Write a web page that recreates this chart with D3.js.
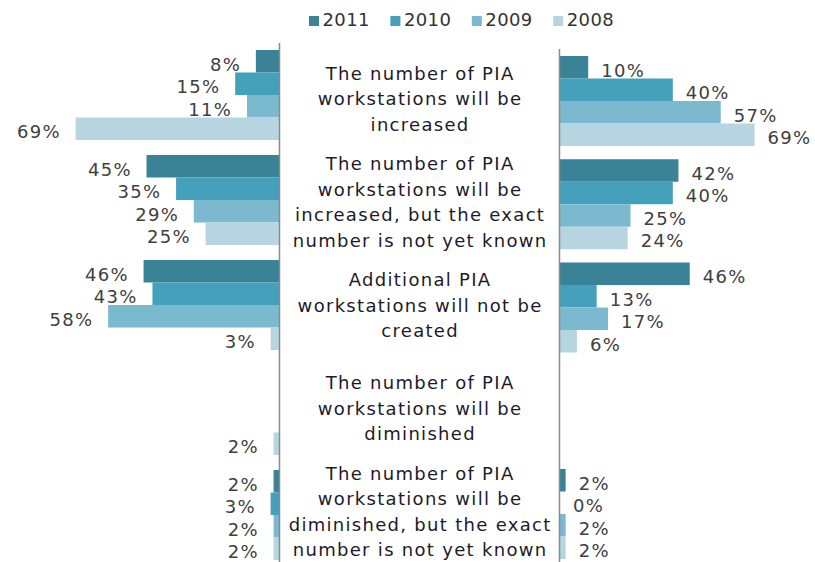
<!DOCTYPE html>
<html>
<head>
<meta charset="utf-8">
<script src="https://cdn.jsdelivr.net/npm/d3@7"></script>
<style>
  body { margin: 0; background: #fff; }
  text { font-family: "DejaVu Sans", Verdana, sans-serif; }
</style>
</head>
<body>
<script>
var categories = [
  "The number of PIA\nworkstations will be\nincreased",
  "The number of PIA\nworkstations will be\nincreased, but the exact\nnumber is not yet known",
  "Additional PIA\nworkstations will not be\ncreated",
  "The number of PIA\nworkstations will be\ndiminished",
  "The number of PIA\nworkstations will be\ndiminished, but the exact\nnumber is not yet known"
];
var years = ["2011", "2010", "2009", "2008"];
var colors = ["#3a8296", "#45a0bb", "#7bb9cf", "#b6d5e0"];

// left chart, one array per year (null = no answer shown)
var left2011 = [8, 45, 46, null, 2];
var left2010 = [15, 35, 43, null, 3];
var left2009 = [11, 29, 58, null, 2];
var left2008 = [69, 25, 3, 2, 2];

// right chart
var right2011 = [10, 42, 46, null, 2];
var right2010 = [40, 40, 13, null, 0];
var right2009 = [57, 25, 17, null, 2];
var right2008 = [69, 24, 6, null, 2];

var leftSeries = [left2011, left2010, left2009, left2008];
var rightSeries = [right2011, right2010, right2009, right2008];

var W = 815, H = 562;
var svg = d3.select("body").append("svg").attr("width", W).attr("height", H);

var axisL = 279.5, axisR = 559.5;

// horizontal scales
var xL = d3.scaleLinear().domain([0, 100]).range([axisL, axisL - 295.5]);
var xR = d3.scaleLinear().domain([0, 100]).range([axisR + 0.5, axisR + 0.5 + 282]);

// vertical scales (the two halves are not quite aligned)
var yL = d3.scaleBand().domain(d3.range(categories.length)).range([50, 560])
  .paddingInner(15 / 105).paddingOuter(0);
var yR = d3.scaleBand().domain(d3.range(categories.length)).range([56, 559])
  .paddingInner(13.25 / 103.25).paddingOuter(0);
var subL = d3.scaleBand().domain(years).range([0, yL.bandwidth()]);
var subR = d3.scaleBand().domain(years).range([0, yR.bandwidth()]);

var labelColor = "#404040";
var spacing = "1.3px";

function drawSide(series, x, y, sub, side) {
  var g = svg.append("g");
  series.forEach(function (vals, si) {
    var yr = years[si];
    var rows = vals.map(function (v, ci) { return { v: v, c: ci }; })
      .filter(function (d) { return d.v !== null; });

    g.selectAll(".bar" + yr).data(rows).enter().append("rect")
      .attr("x", function (d) { return side < 0 ? x(d.v) : x(0); })
      .attr("width", function (d) { return Math.abs(x(d.v) - x(0)); })
      .attr("y", function (d) { return y(d.c) + sub(yr); })
      .attr("height", sub.bandwidth())
      .style("fill", colors[si]);

    g.selectAll(".lab" + yr).data(rows).enter().append("text")
      .attr("x", function (d) { return side < 0 ? x(d.v) - 14.7 : x(d.v) + 13; })
      .attr("y", function (d) { return y(d.c) + sub(yr) + sub.bandwidth() / 2 + 3; })
      .attr("dy", "0.36em")
      .attr("text-anchor", side < 0 ? "end" : "start")
      .style("font-size", "18px")
      .style("letter-spacing", spacing)
      .style("fill", labelColor)
      .text(function (d) { return d.v + "%"; });
  });
}

drawSide(leftSeries, xL, yL, subL, -1);
drawSide(rightSeries, xR, yR, subR, 1);

// axis lines
svg.append("line").attr("x1", axisL).attr("x2", axisL).attr("y1", 43).attr("y2", H)
  .attr("stroke", "#8a8a8a").attr("stroke-width", 1.5);
svg.append("line").attr("x1", axisR).attr("x2", axisR).attr("y1", 49).attr("y2", H)
  .attr("stroke", "#8a8a8a").attr("stroke-width", 1.5);

// category labels in the middle column
var lineH = 25.5;
var cx = (axisL + axisR) / 2 + 0.6;
categories.forEach(function (cat, ci) {
  var lines = cat.split("\n");
  var c = yR(ci) + yR.bandwidth() / 2 - 2.5;
  var t = svg.append("text")
    .attr("text-anchor", "middle")
    .style("font-size", "18px")
    .style("letter-spacing", spacing)
    .style("fill", "#1e1a2a");
  lines.forEach(function (ln, i) {
    t.append("tspan")
      .attr("x", cx)
      .attr("y", c + 6.5 + (i - (lines.length - 1) / 2) * lineH)
      .text(ln);
  });
});

// legend
var legend = svg.append("g");
years.forEach(function (yr, i) {
  var lx = 309 + i * 81.4;
  legend.append("rect").attr("x", lx).attr("y", 16).attr("width", 10).attr("height", 10)
    .style("fill", colors[i]);
  legend.append("text").attr("x", lx + 13.5).attr("y", 26)
    .style("font-size", "18px").style("letter-spacing", "0.4px").style("fill", "#333")
    .text(yr);
});
</script>
</body>
</html>
